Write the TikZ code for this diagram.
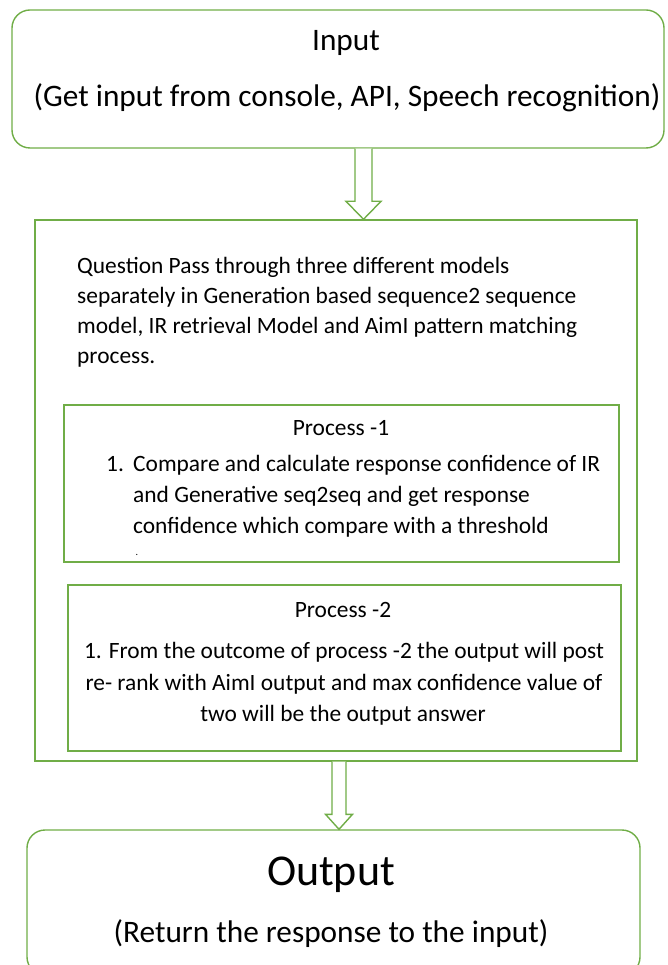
\documentclass[tikz,border=0pt]{standalone}
\usepackage{fontspec}
\setmainfont{Carlito}
\usetikzlibrary{calc}
\definecolor{grn}{RGB}{112,173,71}
\begin{document}
\begin{tikzpicture}[x=1pt,y=-1pt,
  box/.style={draw=grn, line width=1.4pt, inner sep=0pt},
  rbox/.style={box, rounded corners=18pt},
  txt/.style={inner sep=0pt, text=black},
  big/.style={font=\fontsize{31.3}{36}\selectfont},
  med/.style={font=\fontsize{23.4}{28}\selectfont},
  arr/.style={draw=grn, line width=1.4pt, fill=white, line join=miter}]
\useasboundingbox (0,0) rectangle (667,965);
% boxes
\node[rbox, minimum width=652pt, minimum height=138pt] (in) at (338,79) {};
\node[box, minimum width=602pt, minimum height=541pt] (main) at (336,490.5) {};
\node[box, minimum width=555pt, minimum height=157pt] (p1) at (341.5,483.5) {};
\node[box, minimum width=553pt, minimum height=166pt] (p2) at (344.5,668) {};
\node[rbox, minimum width=613pt, minimum height=145pt] (out) at (333.5,902.5) {};
% input texts
\node[txt, big] (intitle) at (346,43) {Input};
\node[txt, big] (insub) at (347,98) {(Get input from console, API, Speech recognition)};
% paragraph
\node[txt, med, anchor=mid west] (q1) at (77,271) {Question Pass through three different models};
\node[txt, med, anchor=mid west] (q2) at (77,301) {separately in Generation based sequence2 sequence};
\node[txt, med, anchor=mid west] (q3) at (77,331) {model, IR retrieval Model and AimI pattern matching};
\node[txt, med, anchor=mid west] (q4) at (77,361) {process.};
% process 1
\node[txt, med] (p1t) at (341,428) {Process -1};
\node[txt, med, anchor=mid west] (p1n) at (106,469) {1.};
\node[txt, med, anchor=mid west] (p1a) at (133,469) {Compare and calculate response confidence of IR};
\node[txt, med, anchor=mid west] (p1b) at (133,500) {and Generative seq2seq and get response};
\node[txt, med, anchor=mid west] (p1c) at (133,531) {confidence which compare with a threshold};
\node[txt, font=\fontsize{10}{12}\selectfont] (p1d) at (137,555) {.};
% process 2
\node[txt, med] (p2t) at (343,610) {Process -2};
\node[txt, med] (p2a) at (344,652) {1. From the outcome of process -2 the output will post};
\node[txt, med] (p2b) at (344,684) {re- rank with AimI output and max confidence value of};
\node[txt, med] (p2c) at (343,715) {two will be the output answer};
% output texts
\node[txt, font=\fontsize{44}{50}\selectfont] (outtitle) at (331,875) {Output};
\node[txt, big] (outsub) at (331,934) {(Return the response to the input)};
% hollow arrows
\coordinate (a1x) at (363.5,0);
\coordinate (a2x) at (339,0);
\draw[arr] ($(in.south -| a1x)+(-8.5,0)$) -- ($(main.north -| a1x)+(-8.5,-18)$)
  -- ($(main.north -| a1x)+(-17.5,-18)$) -- (main.north -| a1x)
  -- ($(main.north -| a1x)+(17.5,-18)$) -- ($(main.north -| a1x)+(8.5,-18)$)
  -- ($(in.south -| a1x)+(8.5,0)$);
\draw[arr] ($(main.south -| a2x)+(-7,0)$) -- ($(out.north -| a2x)+(-7,-15)$)
  -- ($(out.north -| a2x)+(-13.5,-15)$) -- (out.north -| a2x)
  -- ($(out.north -| a2x)+(13.5,-15)$) -- ($(out.north -| a2x)+(7,-15)$)
  -- ($(main.south -| a2x)+(7,0)$);
\end{tikzpicture}
\end{document}
